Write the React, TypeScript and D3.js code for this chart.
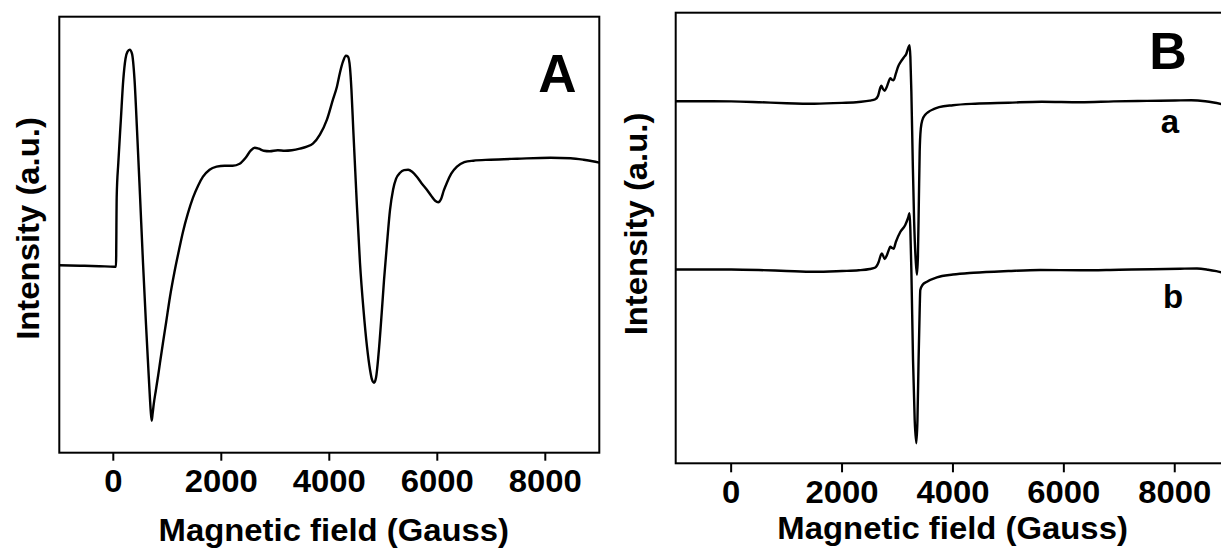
import React from "react";
import * as d3 from "d3";

// EPR spectra: [magnetic field (G), intensity (a.u.)]
const spectrumA: [number, number][] = [
  [-1000, 1.5], [-616, 1], [-260, 0.5], [19, 0], [50, 0], [63, 70], [93, 104],
  [140, 147], [185, 187], [226, 208], [263, 215], [304, 217], [346, 213],
  [393, 187], [439, 137], [494, 72], [550, 4], [606, -58], [643, -96],
  [680, -133], [694, -145], [711, -154], [728, -147], [750, -137],
  [790, -123], [830, -109], [865, -96], [920, -76], [980, -55], [1050, -30],
  [1130, -6], [1210, 15], [1291, 35], [1380, 53], [1476, 69], [1570, 81],
  [1661, 90], [1783, 97], [1913, 100],
  [2061, 101], [2210, 101], [2340, 103], [2451, 109], [2544, 116], [2618, 119],
  [2693, 118], [2786, 116], [2897, 115.5], [3046, 116.5], [3176, 116],
  [3306, 116.5], [3454, 118], [3584, 120], [3696, 123], [3826, 132],
  [3956, 147], [4067, 167], [4141, 180], [4197, 194], [4253, 205], [4309, 211],
  [4346, 210], [4383, 199], [4410, 177], [4444, 137], [4506, 67], [4568, 4],
  [4633, -43], [4698, -80], [4754, -103], [4791, -113], [4828, -116],
  [4865, -111], [4911, -88], [4971, -46], [5014, -13], [5064, 20], [5125, 57],
  [5181, 77], [5237, 88], [5311, 94], [5385, 96.5], [5460, 97], [5534, 95],
  [5621, 90], [5701, 84], [5807, 77], [5887, 71], [5961, 66], [6017, 64.5],
  [6072, 68], [6119, 76], [6178, 84], [6258, 93], [6364, 100], [6500, 104.5],
  [6667, 106], [6982, 107], [7478, 108], [8097, 109], [8468, 108.5],
  [8709, 107], [8876, 105.5], [9000, 104],
];

const spectrumBa: [number, number][] = [
  [-1000, 0.5], [-500, 0.5], [0, 0.3], [500, -0.5], [1000, -1.5], [1500, -2],
  [2000, -1.2], [2300, -0.3], [2500, 1], [2600, 2.5], [2650, 6], [2690, 14],
  [2710, 16], [2740, 12.5], [2770, 11], [2800, 14], [2840, 20], [2870, 23.5],
  [2900, 22], [2930, 21.5], [2970, 28], [3010, 35], [3060, 40], [3110, 44],
  [3160, 48], [3195, 54], [3218, 56.5], [3232, 45], [3250, 10], [3275, -60],
  [3300, -120], [3330, -160], [3351, -173], [3368, -155], [3385, -100],
  [3400, -50], [3420, -27], [3450, -18], [3500, -13], [3550, -10.5],
  [3650, -7.5], [3750, -5.5], [4000, -3.5], [4400, -2], [5000, -1], [5600, 0],
  [6300, -0.5], [6900, 0.3], [7500, 0.8], [8000, 1.2], [8300, 1.5],
  [8550, 0.5], [8700, -0.8], [8850, -2.5],
];

const spectrumBb: [number, number][] = [
  [-1000, 0.5], [0, 0.5], [500, 0], [1000, -1], [1500, -1.8], [2000, -1],
  [2300, -0.3], [2500, 1], [2600, 2.5], [2660, 8], [2700, 15], [2720, 16.5],
  [2768, 11], [2810, 15], [2850, 21], [2870, 23.3], [2900, 22], [2930, 21.3],
  [2970, 28], [3050, 38], [3140, 45], [3190, 52], [3218, 56.7], [3232, 40],
  [3250, 0], [3280, -90], [3310, -150], [3340, -173.3], [3360, -150],
  [3380, -90], [3400, -40], [3411, -20], [3450, -15], [3531, -11.7],
  [3711, -7.3], [4000, -4.5], [4371, -2.7], [5000, -1], [5573, 0],
  [6300, -0.3], [7000, 0.3], [7600, 0.8], [8100, 1.3], [8400, 1.5],
  [8600, 0.3], [8750, -1.2], [8850, -2.5],
];

// vertical offsets used to stack the two traces in panel B
const offsetBa = 361.6;
const offsetBb = 193.3;

const fieldTicks = [0, 2000, 4000, 6000, 8000];
const traceLabels = ["a", "b"];
const panelLabels = ["A", "B"];
const xTitle = "Magnetic field (Gauss)";
const yTitle = "Intensity (a.u.)";

const FONT = "'Liberation Sans', Arial, Helvetica, sans-serif";

export default function App() {
  // Panel A geometry
  const A = { left: 59.3, right: 599.3, top: 16.7, bottom: 452.7 };
  const xA = d3.scaleLinear().domain([-1000, 9000]).range([A.left, A.right]);
  const yA = d3.scaleLinear().domain([-186, 250]).range([A.bottom, A.top]);

  // Panel B geometry (right edge runs past the page)
  const B = { left: 675.7, right: 1230.2, top: 12.7, bottom: 463.3 };
  const xB = d3.scaleLinear().domain([-1000, 9000]).range([B.left, B.right]);
  const yB = d3.scaleLinear().domain([0, 450.6]).range([B.bottom, B.top]);

  const lineA = d3
    .line<[number, number]>()
    .x((d) => xA(d[0]))
    .y((d) => yA(d[1]))
    .curve(d3.curveMonotoneX);

  const lineB = (offset: number) =>
    d3
      .line<[number, number]>()
      .x((d) => xB(d[0]))
      .y((d) => yB(d[1] + offset))
      .curve(d3.curveMonotoneX);

  const stretch = 1.06;
  const axisSize = 31;

  const axisText = (
    x: number,
    y: number,
    text: string,
    size: number,
    rotate = false
  ) => (
    <text
      transform={`translate(${x},${y})${rotate ? " rotate(-90)" : ""} scale(${stretch},1)`}
      textAnchor="middle"
      fontFamily={FONT}
      fontWeight="bold"
      fontSize={size}
      fill="#000"
    >
      {text}
    </text>
  );

  return (
    <svg
      width={1221}
      height={551}
      style={{ position: "absolute", left: 0, top: 0, background: "#fff" }}
    >
      <rect x={0} y={0} width={1221} height={551} fill="#fff" />

      {/* Panel A */}
      <rect
        x={A.left}
        y={A.top}
        width={A.right - A.left}
        height={A.bottom - A.top}
        fill="none"
        stroke="#000"
        strokeWidth={2}
      />
      {fieldTicks.map((t) => (
        <g key={`ta${t}`}>
          <line
            x1={xA(t)}
            x2={xA(t)}
            y1={A.bottom}
            y2={A.bottom + 8}
            stroke="#000"
            strokeWidth={2}
          />
          {axisText(xA(t), 492, String(t), axisSize)}
        </g>
      ))}
      <path d={lineA(spectrumA) || ""} fill="none" stroke="#000" strokeWidth={2.4} />
      {axisText(333.8, 541, xTitle, axisSize)}
      {axisText(39, 228.5, yTitle, axisSize, true)}
      <text
        x={557.5}
        y={91.7}
        textAnchor="middle"
        fontFamily={FONT}
        fontWeight="bold"
        fontSize={53}
      >
        {panelLabels[0]}
      </text>

      {/* Panel B */}
      <rect
        x={B.left}
        y={B.top}
        width={B.right - B.left}
        height={B.bottom - B.top}
        fill="none"
        stroke="#000"
        strokeWidth={2}
      />
      {fieldTicks.map((t) => (
        <g key={`tb${t}`}>
          <line
            x1={xB(t)}
            x2={xB(t)}
            y1={B.bottom}
            y2={B.bottom + 9}
            stroke="#000"
            strokeWidth={2}
          />
          {axisText(xB(t), 503, String(t), axisSize)}
        </g>
      ))}
      <path
        d={lineB(offsetBa)(spectrumBa) || ""}
        fill="none"
        stroke="#000"
        strokeWidth={2.4}
      />
      <path
        d={lineB(offsetBb)(spectrumBb) || ""}
        fill="none"
        stroke="#000"
        strokeWidth={2.4}
      />
      {axisText(952.6, 539, xTitle, axisSize)}
      {axisText(647, 224, yTitle, axisSize, true)}
      <text
        x={1168}
        y={68.5}
        textAnchor="middle"
        fontFamily={FONT}
        fontWeight="bold"
        fontSize={52}
      >
        {panelLabels[1]}
      </text>
      <text
        x={1170}
        y={133.3}
        textAnchor="middle"
        fontFamily={FONT}
        fontWeight="bold"
        fontSize={33}
      >
        {traceLabels[0]}
      </text>
      <text
        x={1173}
        y={308}
        textAnchor="middle"
        fontFamily={FONT}
        fontWeight="bold"
        fontSize={33}
      >
        {traceLabels[1]}
      </text>
    </svg>
  );
}
